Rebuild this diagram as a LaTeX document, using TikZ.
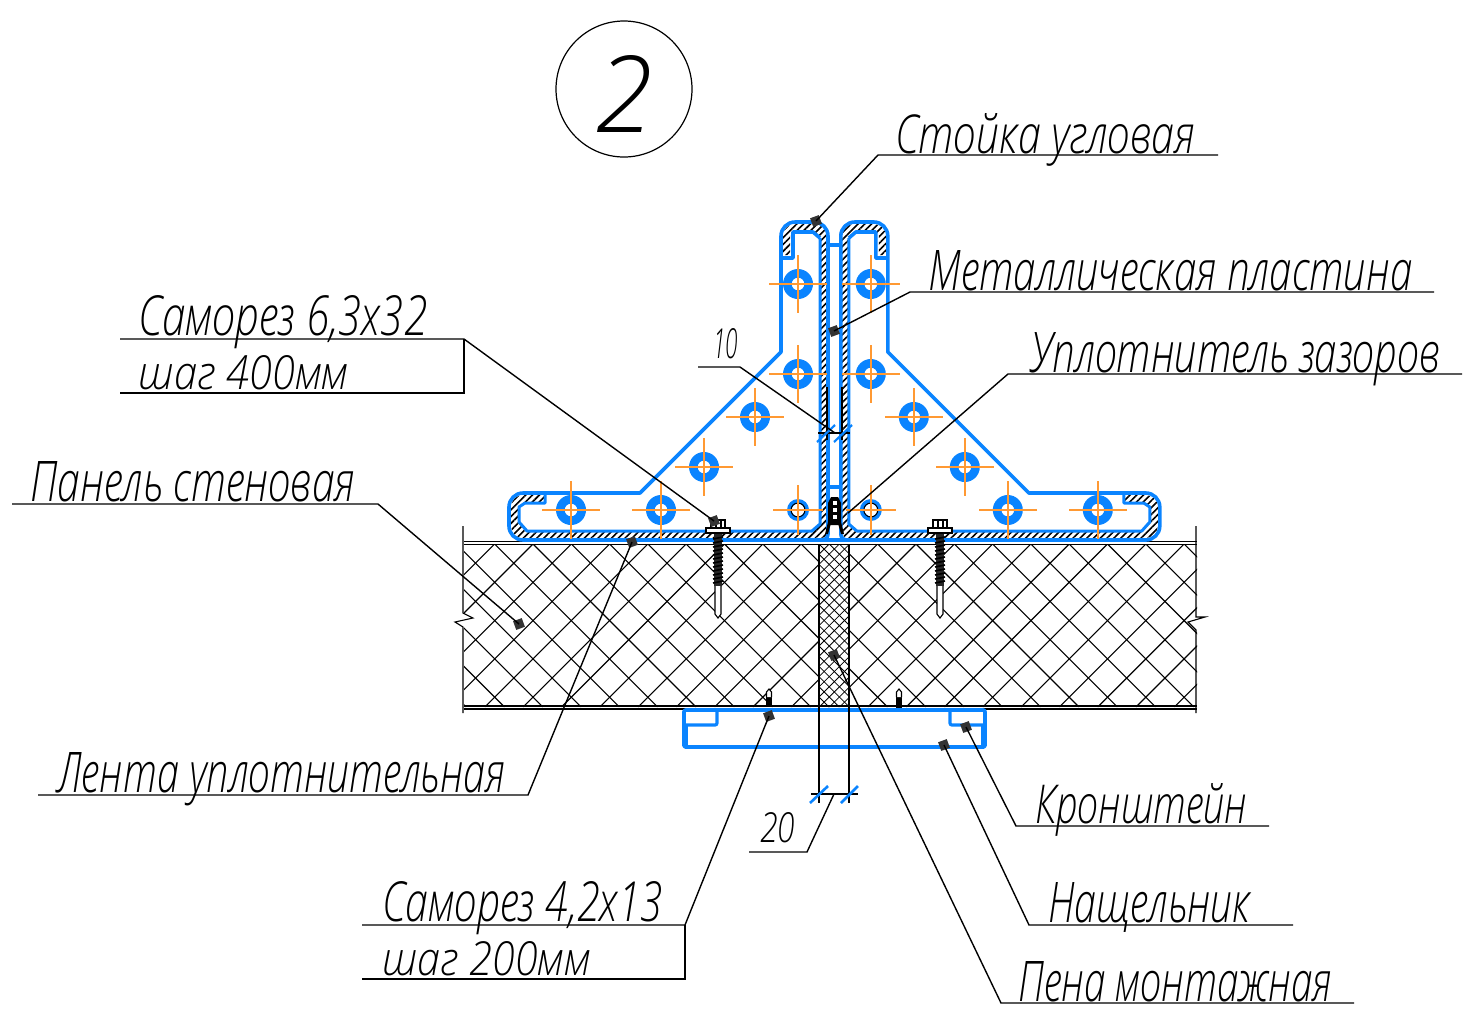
\documentclass[tikz,border=0pt]{standalone}
\usepackage{fontspec}
\setmainfont{Open Sans Light}[ItalicFont={Open Sans Light Italic}]
\usetikzlibrary{patterns.meta}

\definecolor{steelblue}{RGB}{10,132,255}
\definecolor{axisorange}{RGB}{255,153,51}

\newcommand{\fitlabel}[3]{\resizebox{\dimexpr 0.5pt*#1\relax}{\dimexpr 0.5pt*#2\relax}{\itshape #3}}

\tikzset{
  leader/.style={draw=black,line width=0.7pt},
  thinline/.style={draw=black,line width=0.55pt},
  blueline/.style={draw=steelblue,line width=1.8pt,line join=round},
  axisline/.style={draw=axisorange,line width=0.7pt},
  tagmark/.style={fill=black!80,inner sep=0pt,minimum size=4.6pt,rotate=20},
  lbl/.style={anchor=base west,inner sep=0pt},
  hatchband/.style={pattern={Lines[angle=45,distance=2.4pt,line width=0.8pt]},pattern color=black}
}

\begin{document}
\begin{tikzpicture}[x=0.5pt,y=-0.5pt]

\useasboundingbox (0,0) rectangle (1468,1014);

\node[draw,circle,line width=0.6pt,minimum size=68pt,inner sep=0pt] (circ) at (624,89) {};
\node[lbl] (numtwo) at (595,132) {\fitlabel{57}{77}{2}};

% panel
\begin{scope}
\clip (464,544) rectangle (819,707) (849,544) rectangle (1197,707);
\foreach \k in {-7,...,18}
{
  \draw[thinline] ({533+38.3*\k},544) -- ({696+38.3*\k},707);
}
\foreach \k in {-2,...,24}
{
  \draw[thinline] ({533+38.3*\k},544) -- ({370+38.3*\k},707);
}
\end{scope}

\begin{scope}
\clip (819,544) rectangle (849,707);
\foreach \k in {-18,...,4}
{
  \draw[draw=black,line width=0.4pt] ({819+10.2*\k},544) -- ({982+10.2*\k},707);
}
\foreach \k in {0,...,20}
{
  \draw[draw=black,line width=0.4pt] ({819+10.2*\k},544) -- ({656+10.2*\k},707);
}
\end{scope}

\draw[thinline] (464,541.5) -- (1197,541.5);
\draw[thinline] (464,544.5) -- (1197,544.5);
\draw[thinline] (464,706) -- (1197,706);
\draw[thinline] (464,709) -- (1197,709);

\coordinate (BL1) at (463,526);
\coordinate (BL2) at (463,613);
\coordinate (BL3) at (473,618);
\coordinate (BL4) at (455,622);
\coordinate (BL5) at (463,627);
\coordinate (BL6) at (463,713);
\draw[thinline] (BL1) -- (BL2) -- (BL3) -- (BL4) -- (BL5) -- (BL6);

\coordinate (BR1) at (1196,526);
\coordinate (BR2) at (1196,617);
\coordinate (BR3) at (1205,617);
\coordinate (BR4) at (1188,622);
\coordinate (BR5) at (1196,630);
\coordinate (BR6) at (1196,713);
\draw[thinline] (BR1) -- (BR2) -- (BR3) -- (BR4) -- (BR5) -- (BR6);

% bracket halves, right one mirrored
\foreach \mir/\shf in {1/0,-1/834.4}
{
\begin{scope}[xshift=\shf pt,xscale=\mir]

\path[hatchband]
  (783,255) [rounded corners=6pt] -- (783,224) -- (827,224) [rounded corners=3pt] -- (827,538) -- (820,538) [rounded corners=6pt]
  -- (511,538) -- (511,495) [sharp corners] -- (545,495)
  -- (545,502) -- (525,502) -- (519,507) -- (519,522) -- (527,531) -- (812,531) -- (820,524)
  -- (820,238) -- (813,231) -- (795,231) -- (790,236) -- (790,255) -- cycle;

\draw[blueline]
  (781,258) [rounded corners=7pt] -- (781,222) -- (828,222) [rounded corners=3pt] -- (828,540)  [rounded corners=7pt] -- (509,540)
  -- (509,493) [sharp corners] -- (640,493)
  -- (781,352) -- (781,258) -- (793,258) -- (793,232) -- (813,232) -- (820,238);
\draw[draw=steelblue,line width=1.5pt,line join=round]
  (820,238) -- (820,524) -- (812,531) -- (527,531) -- (519,522) -- (519,507) -- (525,503) -- (545,503) -- (545,493);

\foreach \hx/\hy in {798/284,798/374,755/417,704/467,661/510,571/510}
{
  \fill[steelblue,even odd rule] (\hx,\hy) circle (7.5pt) (\hx,\hy) circle (3.2pt);
  \draw[axisline] (\hx-29,\hy) -- (\hx+29,\hy);
  \draw[axisline] (\hx,\hy-29) -- (\hx,\hy+29);
}

\fill[steelblue,even odd rule] (798,510) circle (5.5pt) (798,510) circle (3.2pt);
\draw[draw=black,line width=0.5pt] (798,510) circle (3.5pt);
\draw[axisline] (773,510) -- (823,510);
\draw[axisline] (798,485) -- (798,535);

\end{scope}
}

% plate
\draw[blueline] (829,245) -- (840,245);
\draw[blueline] (829,487) -- (840,487);
\draw[blueline] (820,540) -- (848,540);

% sealant
\fill[black] (828,503) -- (831,497) -- (838,497) -- (841,503) -- (841,522) -- (844,534)
  -- (841,534) -- (838.5,525) -- (830.5,525) -- (828,534) -- (825,534) -- (828,522) -- cycle;
\foreach \sy in {501,508,515}
{
  \fill[white] (832.5,\sy) rectangle (836.5,\sy+4);
}

% screws
\foreach \sx in {718,940}
{
  \draw[thinline,fill=white] (\sx-7,528) -- (\sx-7,520) -- (\sx+7,520) -- (\sx+7,528);
  \draw[thinline] (\sx-2,520) -- (\sx-2,528);
  \draw[thinline] (\sx+3,520) -- (\sx+3,528);
  \draw[thinline,fill=white] (\sx-12,528) rectangle (\sx+12,533);
  \fill[black!85] (\sx-4,534) rectangle (\sx+4,586);
  \foreach \ty in {538,542,...,582}
  {
    \draw[draw=black,line width=0.8pt] (\sx-5,\ty+1) -- (\sx+5,\ty-1);
  }
  \draw[thinline,fill=white] (\sx-3,586) -- (\sx-3,614) -- (\sx,618) -- (\sx+3,614) -- (\sx+3,586);
}

\foreach \sx/\sy in {769/707,899/712}
{
  \fill[black] (\sx-3,697) rectangle (\sx+3,\sy);
  \draw[thinline,fill=white] (\sx-2.5,697) -- (\sx-2.5,692) -- (\sx,689) -- (\sx+2.5,692) -- (\sx+2.5,697);
}

% flashing
\draw[steelblue,line width=1.9pt,line join=round,rounded corners=1pt]
  (684,710) -- (985,710) -- (985,747) -- (684,747) -- cycle;
\draw[steelblue,line width=1.6pt,rounded corners=1pt] (683,725) -- (717,725) -- (717,710);
\draw[steelblue,line width=1.6pt,rounded corners=1pt] (986,725) -- (950,725) -- (950,710);
\draw[steelblue,line width=3pt] (685,725) -- (685,746);
\draw[steelblue,line width=3pt] (984,725) -- (984,746);

% dimension 10
\coordinate (TL) at (827,387);
\coordinate (TR) at (842,387);
\draw[thinline] (TL) -- (827,440);
\draw[thinline] (TR) -- (842,440);
\draw[thinline] (818,433) -- (850,433);
\draw[draw=steelblue,line width=1.1pt] (817,442) -- (835,425);
\draw[draw=steelblue,line width=1.1pt] (834,442) -- (852,425);
\coordinate (D1) at (835,433);
\coordinate (D2) at (740,367);
\coordinate (D3) at (698,367);
\draw[leader] (D1) -- (D2) -- (D3);
\node[lbl] (dimten) at (713,358) {\fitlabel{25}{30}{10}};

% dimension 20
\draw[thinline] (819,544) -- (819,803);
\draw[thinline] (849,544) -- (849,803);
\draw[thinline] (811,794) -- (858,794);
\draw[draw=steelblue,line width=1.3pt] (810,803) -- (828,786);
\draw[draw=steelblue,line width=1.3pt] (841,803) -- (858,786);
\coordinate (E1) at (834,794);
\coordinate (E2) at (807,852);
\coordinate (E3) at (749,852);
\draw[leader] (E1) -- (E2) -- (E3);
\node[lbl] (dimtwenty) at (760,842) {\fitlabel{35}{30}{20}};

% leaders
\node[tagmark] (MA) at (816,221) {};
\coordinate (A1) at (878,155);
\coordinate (A2) at (1218,155);
\draw[leader] (MA.center) -- (A1) -- (A2);
\node[lbl] (tA) at (895,153) {\fitlabel{300}{40}{Стойка угловая}};

\node[tagmark] (MB) at (834,331) {};
\coordinate (B1) at (910,292);
\coordinate (B2) at (1434,292);
\draw[leader] (MB.center) -- (B1) -- (B2);
\node[lbl] (tB) at (928,290) {\fitlabel{484}{40}{Металлическая пластина}};

\coordinate (C0) at (848,513);
\coordinate (C1) at (1008,374);
\coordinate (C2) at (1462,374);
\draw[leader] (C0) -- (C1) -- (C2);
\node[lbl] (tC) at (1030,372) {\fitlabel{410}{40}{Уплотнитель зазоров}};

\node[tagmark] (MF) at (714,521) {};
\coordinate (F1) at (464,339);
\coordinate (F2) at (120,339);
\coordinate (F3) at (464,393);
\coordinate (F4) at (120,393);
\draw[leader] (MF.center) -- (F1) -- (F2);
\draw[leader] (F1) -- (F3) -- (F4);
\node[lbl] (tF) at (138,335) {\fitlabel{289}{40}{Саморез 6,3х32}};
\node[lbl] (tFF) at (138,389) {\fitlabel{210}{34}{шаг 400мм}};

\node[tagmark] (MG) at (519,624) {};
\coordinate (G1) at (378,504);
\coordinate (G2) at (12,504);
\draw[leader] (MG.center) -- (G1) -- (G2);
\node[lbl] (tG) at (30,501) {\fitlabel{325}{40}{Панель стеновая}};

\node[tagmark] (MH) at (632,542) {};
\coordinate (H1) at (528,795);
\coordinate (H2) at (38,795);
\draw[leader] (MH.center) -- (H1) -- (H2);
\node[lbl] (tH) at (57,792) {\fitlabel{448}{40}{Лента уплотнительная}};

\node[tagmark] (MI) at (769,716) {};
\coordinate (I1) at (685,925);
\coordinate (I2) at (362,925);
\coordinate (I3) at (685,979);
\coordinate (I4) at (362,979);
\draw[leader] (MI.center) -- (I1) -- (I2);
\draw[leader] (I1) -- (I3) -- (I4);
\node[lbl] (tI) at (382,921) {\fitlabel{281}{40}{Саморез 4,2х13}};
\node[lbl] (tII) at (382,975) {\fitlabel{208}{34}{шаг 200мм}};

\node[tagmark] (MJ) at (966,727) {};
\coordinate (J1) at (1016,826);
\coordinate (J2) at (1269,826);
\draw[leader] (MJ.center) -- (J1) -- (J2);
\node[lbl] (tJ) at (1035,823) {\fitlabel{212}{40}{Кронштейн}};

\node[tagmark] (MK) at (944,745) {};
\coordinate (K1) at (1029,925);
\coordinate (K2) at (1293,925);
\draw[leader] (MK.center) -- (K1) -- (K2);
\node[lbl] (tK) at (1048,922) {\fitlabel{202}{40}{Нащельник}};

\node[tagmark] (ML) at (834,655) {};
\coordinate (L1) at (1001,1003);
\coordinate (L2) at (1354,1003);
\draw[leader] (ML.center) -- (L1) -- (L2);
\node[lbl] (tL) at (1018,1001) {\fitlabel{314}{40}{Пена монтажная}};

\end{tikzpicture}
\end{document}
